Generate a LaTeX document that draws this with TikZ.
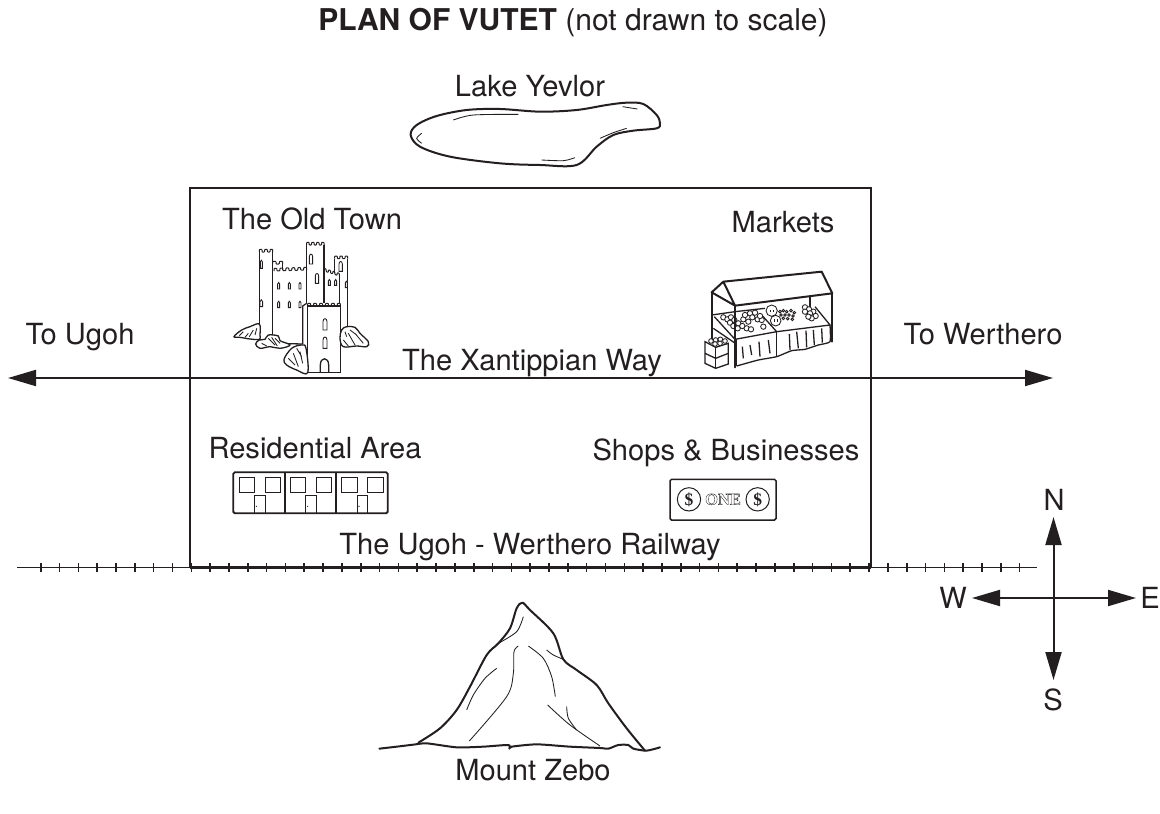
\documentclass[tikz,border=0pt]{standalone}
\usepackage{fontspec}
\setmainfont{TeX Gyre Heros}
\newfontfamily\billfont{Liberation Serif}
\usetikzlibrary{arrows.meta}
\definecolor{ink}{HTML}{231F20}
\newcommand{\arched}[4]{\draw[thinline] (#1-#3,#2+#4) -- (#1-#3,#2) .. controls (#1-#3,#2-#3-#3) and (#1+#3,#2-#3-#3) .. (#1+#3,#2) -- (#1+#3,#2+#4) -- cycle;}
\newcommand{\fruit}[3]{\draw[thinline,fill=white] (#1,#2) circle (#3);}
\newcommand{\outlinetext}[1]{\special{pdf: code 1 Tr 0.35 w}#1\special{pdf: code 0 Tr 1 w}}
\newcommand{\crenels}[5]{%
  \pgfmathsetmacro\cw{(#3-#1)/(2*#5-1)}%
  \pgfmathsetmacro\cd{(#4-#2)/(2*#5-1)}%
  \pgfmathtruncatemacro\cn{#5-1}%
  \draw[crenelpath] (#1,#2) -- ++(0,-8) -- ++(\cw,\cd) -- ++(0,8)
    \foreach \k in {1,...,\cn} { -- ++(\cw,\cd) -- ++(0,-8) -- ++(\cw,\cd) -- ++(0,8) };}
\tikzset{
  x=1pt,y=-1pt,
  label/.style={text=ink,font=\fontsize{29.1}{31}\selectfont,anchor=base,inner sep=0pt},
  mainline/.style={draw=ink,line width=2pt},
  arrowline/.style={draw=ink,line width=2pt,-{Triangle[length=28pt,width=16pt,color=ink]}},
  railline/.style={draw=ink,line width=1.7pt},
  tick/.style={draw=ink,line width=1.6pt},
  thinline/.style={draw=ink,line width=.85pt},
  midline/.style={draw=ink,line width=1.3pt},
  crenelpath/.style={draw=ink,line width=1pt,rounded corners=.7pt,line join=round},
  heavyline/.style={draw=ink,line width=2pt,line join=round,line cap=round},
  zoomed/.style={x=.33333pt,y=-.33333pt},
}
\begin{document}
\begin{tikzpicture}
\useasboundingbox (0,0) rectangle (1160,814);
\fill[white] (0,0) rectangle (1160,814);

% ---- labels
\node[label,font=\fontsize{30}{32}\selectfont] (title) at (573,30) {\textbf{PLAN OF VUTET} (not drawn to scale)};
\node[label] (lakelabel) at (530,96) {Lake Yevlor};
\node[label] (oldtown) at (312,229) {The Old Town};
\node[label] (markets) at (783,232) {Markets};
\node[label] (ugoh) at (80,344) {To Ugoh};
\node[label] (werthero) at (983,344) {To Werthero};
\node[label] (way) at (532,370) {The Xantippian Way};
\node[label] (residential) at (315,458) {Residential Area};
\node[label] (shops) at (726,460) {Shops \& Businesses};
\node[label] (railway) at (530,554) {The Ugoh - Werthero Railway};
\node[label] (zebo) at (533,780) {Mount Zebo};
\node[label] (north) at (1054,510) {N};
\node[label] (south) at (1053,710) {S};
\node[label] (west) at (953,608) {W};
\node[label] (east) at (1150,608) {E};

% ---- town boundary
\node[mainline,draw,minimum width=681pt,minimum height=379pt,inner sep=0pt,outer sep=0pt,anchor=north west] (town) at (189.5,187.5) {};

% ---- road
\coordinate (wayW) at (8,378);
\coordinate (wayE) at (1053,378);
\coordinate (wayC) at (530,378);
\draw[arrowline] (wayC) -- (wayW);
\draw[arrowline] (wayC) -- (wayE);

% ---- railway
\coordinate (railW) at (17,567.5);
\coordinate (railE) at (1037,567.5);
\draw[railline] (railW) -- (railE);
\draw[draw=ink,line width=3pt] (190,567.5) -- (871,567.5);
\foreach \k in {0,...,52} {\draw[tick] ({40.7+18.826*\k},563) -- ({40.7+18.826*\k},572);}

% ---- compass
\coordinate (cc) at (1053.5,598);
\coordinate (cn) at (1053.5,517);
\coordinate (cs) at (1053.5,680);
\coordinate (cw) at (972,598);
\coordinate (ce) at (1136,598);
\draw[arrowline] (cc) -- (cn);
\draw[arrowline] (cc) -- (cs);
\draw[arrowline] (cc) -- (cw);
\draw[arrowline] (cc) -- (ce);

% ---- lake
\begin{scope}[xshift=400pt,yshift=-90pt,zoomed]
\draw[heavyline] plot[smooth cycle,tension=.55] coordinates {(32,135)(50,105)(110,78)(200,60)(300,57)(420,65)(530,60)(620,45)(680,38)(730,42)(770,75)(780,100)(770,115)(700,122)(640,135)(590,170)(530,225)(420,225)(300,220)(150,200)(60,170)};
\draw[thinline] plot[smooth] coordinates {(160,90)(220,75)(355,73)};
\draw[thinline] plot[smooth] coordinates {(65,130)(50,145)(65,160)};
\draw[thinline] plot[smooth] coordinates {(600,145)(640,128)(680,115)};
\draw[thinline] plot[smooth] coordinates {(425,210)(490,212)(525,203)};
\draw[thinline] plot[smooth] coordinates {(668,50)(712,57)};
\end{scope}

% ---- mountain
\begin{scope}[xshift=370pt,yshift=-590pt,zoomed]
\draw[heavyline] plot[smooth,tension=.5] coordinates {(145,458)(210,415)(260,360)(300,290)(350,195)(385,160)(420,115)(440,55)(457,38)(480,60)(550,130)(580,208)(620,240)(680,285)(715,340)(770,415)(825,482)};
\draw[heavyline] plot[smooth,tension=.4] coordinates {(28,476)(80,470)(130,464)(170,460)(260,472)(340,470)(415,465)(418,476)(425,470)(500,463)(600,470)(690,474)(715,476)(745,465)(775,465)(790,476)(830,482)(870,472)};
\draw[thinline] plot[smooth] coordinates {(385,160)(440,125)(460,80)};
\draw[thinline] plot[smooth] coordinates {(445,168)(432,185)(430,250)(410,320)(298,453)};
\draw[thinline] plot[smooth] coordinates {(290,360)(310,315)(345,265)(380,235)};
\draw[thinline] plot[smooth] coordinates {(475,168)(520,205)(545,260)(556,320)};
\draw[thinline] plot[smooth] coordinates {(530,180)(550,195)(580,208)};
\draw[thinline] plot[smooth] coordinates {(533,345)(600,405)(690,468)};
\draw[thinline] plot[smooth] coordinates {(590,350)(595,385)(620,420)};
\end{scope}

% ---- castle
\begin{scope}[xshift=200pt,yshift=-220pt,zoomed]
\draw[midline] (178,345) -- (178,96);
\draw[midline] (218,345) -- (218,96);
\crenels{178}{96}{218}{96}{3}
\crenels{218}{132}{248}{132}{2}
\crenels{222}{153}{320}{150}{6}
\draw[midline] (248,132) -- (248,150);
\draw[midline] (320,250) -- (320,75);
\draw[midline] (372,250) -- (372,75);
\crenels{320}{75}{372}{75}{4}
\crenels{372}{153}{418}{168}{4}
\draw[midline] (418,165) -- (418,248);
\draw[midline] (404,160) -- (404,116);
\draw[midline] (443,320) -- (443,116);
\crenels{404}{116}{443}{116}{3}
\draw[midline] (218,370) -- (308,372);
\draw[midline] (308,372) -- (308,258) -- (320,250);
\arched{184}{245}{4}{15}
\arched{184}{125}{3}{20}
\arched{236}{192}{3}{15}
\arched{268}{192}{3}{15}
\arched{300}{192}{3}{15}
\arched{236}{248}{3}{15}
\arched{268}{248}{3}{15}
\arched{300}{248}{3}{15}
\arched{333}{110}{5}{22}
\arched{351}{168}{5}{22}
\arched{388}{183}{3}{13}
\arched{407}{183}{3}{13}
\arched{422}{132}{5}{22}
\arched{439}{188}{3}{15}
% front tower
\draw[midline,fill=white] (323,458) -- (323,258) -- (421,258) -- (421,458) -- cycle;
\crenels{323}{258}{421}{258}{6}
\arched{375}{305}{6}{25}
\arched{375}{360}{6}{25}
\draw[midline] (361,458) -- (361,435) .. controls (361,410) and (386,410) .. (386,435) -- (386,458);
% rocks
\draw[midline,fill=white] plot[smooth cycle,tension=.6] coordinates {(102,350)(125,330)(150,320)(178,312)(180,345)(178,358)(150,357)(120,352)};
\draw[midline,fill=white] plot[smooth cycle,tension=.6] coordinates {(167,372)(178,360)(195,358)(205,345)(235,348)(240,362)(270,375)(240,385)(210,380)(180,385)};
\draw[midline,fill=white] plot[smooth cycle,tension=.6] coordinates {(252,418)(275,385)(305,375)(318,385)(323,458)(290,450)(260,435)};
\draw[midline,fill=white] plot[smooth cycle,tension=.6] coordinates {(425,330)(440,320)(465,322)(480,340)(505,365)(500,380)(470,378)(430,380)(420,355)};
\draw[thinline] (130,335) -- (118,347) (160,330) -- (148,350) (145,340) -- (135,352) (170,325) -- (165,345);
\draw[thinline] (205,355) -- (225,375) (225,355) -- (240,370) (185,370) -- (200,378) (215,352) -- (232,378);
\draw[thinline] (280,400) -- (295,440) (300,395) -- (308,430) (265,415) -- (285,435) (290,385) -- (305,410);
\draw[thinline] (445,340) -- (465,375) (465,340) -- (490,370) (430,360) -- (445,378) (450,330) -- (470,345) (435,335) -- (440,350);
\end{scope}

% ---- market stall
\begin{scope}[xshift=695pt,yshift=-260pt,zoomed]
\draw[heavyline] (50,97) -- (85,65) -- (380,35) -- (412,100) -- (120,137) -- (85,65);
\draw[heavyline] (50,97) -- (120,137);
\draw[heavyline] (50,97) -- (50,240);
\draw[heavyline] (412,100) -- (412,245);
\draw[midline] (345,110) -- (345,148);
\draw[midline] (50,165) -- (120,155);
\draw[midline] (120,155) -- (210,145);
\draw[midline] (58,170) -- (120,238) -- (245,215) -- (405,195) -- (360,140);
\draw[midline] (245,215) -- (200,165);
\draw[midline] (55,205) -- (118,248);
\draw[midline] plot[smooth,tension=.3] coordinates {(405,195)(405,245)(370,255)(330,268)(290,272)(245,290)(190,300)(125,318)};
\draw[midline] (245,215) -- (245,290);
\draw[midline] (125,238) -- (125,318);
\foreach \xa/\ya/\xb/\yb in {142/260/145/295,165/255/170/285,192/245/195/290,220/240/225/280,283/222/285/270,305/215/310/265,333/212/335/262,355/210/358/255,380/205/382/248} {\draw[midline] (\xa,\ya) -- (\xb,\yb);}
\foreach \a/\b in {85/172,97/178,108/172,105/188,118/180,115/198,130/190,128/205,145/178,142/198,155/205,168/208,165/160,180/158,150/165,172/172,188/178,200/180,205/200,195/168,160/185} {\fruit{\a}{\b}{8}}
\foreach \a/\b in {330/142,342/148,355/155,330/155,345/160,362/168,350/175,340/170} {\fruit{\a}{\b}{8}}
\foreach \a/\b in {255/155,265/152,275/155,288/152,298/158,258/165,270/165,282/165,294/168,265/175,278/176,292/178} {\fruit{\a}{\b}{4}}
\fruit{230}{152}{17}
\fruit{242}{182}{16}
\draw[thinline] (225,150)--(225,157) (235,150)--(235,157) (238,178)--(238,187) (246,178)--(246,187);
\draw[heavyline] (120,137) -- (120,322);
% crate
\draw[midline,fill=white] (30,245) -- (30,310) -- (62,325) -- (100,312) -- (100,250) -- (62,262) -- cycle;
\draw[midline] (62,262) -- (62,325);
\draw[midline] (30,280) -- (62,295) -- (100,280);
\foreach \a/\b in {48/243,62/240,76/238,90/243,60/252,75/250} {\fruit{\a}{\b}{7}}
\end{scope}

% ---- houses
\begin{scope}[xshift=210pt,yshift=-460pt,zoomed]
\draw[draw=ink,line width=1.8pt,rounded corners=1.5pt] (70,37) rectangle (533,160);
\draw[draw=ink,line width=1.8pt] (225,37) -- (225,160);
\draw[draw=ink,line width=1.8pt] (379,37) -- (379,160);
\foreach \d in {0,154,308} {
  \draw[thinline] (87+\d,53) rectangle (133+\d,97);
  \draw[thinline] (165+\d,53) rectangle (211+\d,97);
  \draw[thinline] (133+\d,160) -- (133+\d,105) -- (165+\d,105) -- (165+\d,160);
  \fill[ink] (139+\d,139) circle (2);
}
\end{scope}

% ---- bank note
\begin{scope}[xshift=650pt,yshift=-470pt,zoomed]
\draw[draw=ink,line width=1.5pt,rounded corners=1.5pt] (60,28) rectangle (378,150);
\draw[draw=ink,line width=1pt] (117,88) circle (35);
\draw[draw=ink,line width=1pt] (323,88) circle (35);
\node[text=ink,font=\fontsize{17.5}{17.5}\bfseries\billfont,inner sep=0pt] (dollarL) at (117,90) {\$};
\node[text=ink,font=\fontsize{17.5}{17.5}\bfseries\billfont,inner sep=0pt] (dollarR) at (323,90) {\$};
\node[text=ink,font=\fontsize{16.5}{16.5}\bfseries\billfont,inner sep=0pt] (one) at (219,88) {\outlinetext{ONE}};
\end{scope}
\end{tikzpicture}
\end{document}
